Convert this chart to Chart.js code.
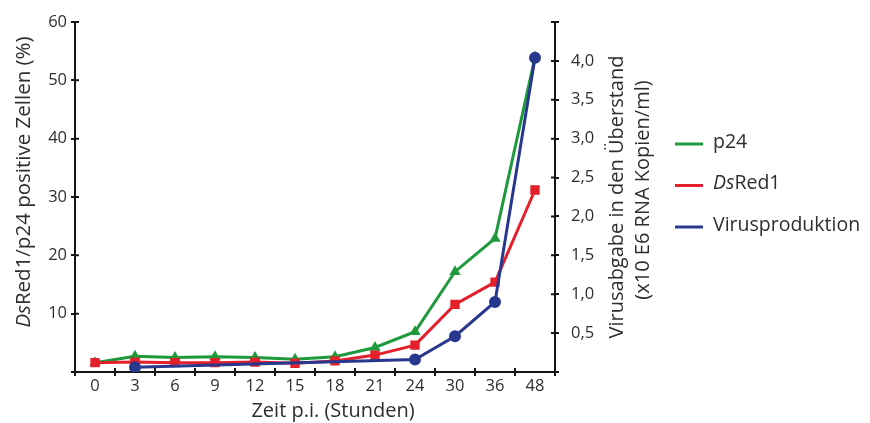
<!DOCTYPE html>
<html>
<head>
<meta charset="utf-8">
<script src="https://cdn.jsdelivr.net/npm/chart.js@4.4.1/dist/chart.umd.min.js"></script>
<style>
  html, body { margin: 0; padding: 0; background: #fff; }
  #wrap { position: relative; width: 870px; height: 423px; }
</style>
</head>
<body>
<div id="wrap"><canvas id="chart1"></canvas></div>
<script>
// hours post infection (category axis)
const hours = ['0', '3', '6', '9', '12', '15', '18', '21', '24', '30', '36', '48']

// % positive cells (left axis)
const p24 = [1.6, 2.7, 2.5, 2.6, 2.5, 2.2, 2.6, 4.2, 6.9, 17.2, 22.9, 54.0]
const dsRed1 = [1.6, 1.7, 1.6, 1.6, 1.7, 1.5, 1.9, 2.9, 4.6, 11.6, 15.4, 31.2]

// virus release, x10 E6 RNA copies/ml (right axis), only measured at some hours
const virus = [null, 0.06, null, null, null, null, null, null, 0.16, 0.46, 0.90, 4.04]

const green = '#1e9a3c'
const red = '#e4202c'
const blue = '#28388e'
const axisColor = '#151515'
const textColor = '#2e2e2e'
const family = '"Open Sans", sans-serif'

// text with some parts in italics, centred on (x, y), rotated by rot
const drawRich = (ctx, parts, x, y, rot, size) => {
    ctx.save()
    ctx.translate(x, y)
    ctx.rotate(rot)
    ctx.textBaseline = 'middle'
    ctx.textAlign = 'left'
    ctx.fillStyle = textColor
    const fontOf = p => (p.i ? 'italic ' : '') + size + 'px ' + family
    let total = 0
    parts.forEach(p => { ctx.font = fontOf(p); total += ctx.measureText(p.t).width })
    let cx = -total / 2
    parts.forEach(p => {
        ctx.font = fontOf(p)
        ctx.fillText(p.t, cx, 0)
        cx += ctx.measureText(p.t).width
    })
    ctx.restore()
}

const extras = {
    id: 'extras',
    afterDraw(chart) {
        const ctx = chart.ctx
        const { left, right, bottom } = chart.chartArea
        const sy = chart.scales.y, sy2 = chart.scales.y2

        // inner half of the crossing tick marks
        ctx.save()
        ctx.strokeStyle = axisColor
        ctx.lineWidth = 2
        ctx.beginPath()
        sy.ticks.forEach((t, i) => {
            const py = sy.getPixelForTick(i)
            ctx.moveTo(left, py); ctx.lineTo(left + 4, py)
        })
        sy2.ticks.forEach((t, i) => {
            const py = sy2.getPixelForTick(i)
            ctx.moveTo(right, py); ctx.lineTo(right - 4, py)
        })
        for (let i = 0; i <= hours.length; i++) {
            const px = left + (right - left) * i / hours.length
            ctx.moveTo(px, bottom); ctx.lineTo(px, bottom - 4)
        }
        ctx.stroke()
        ctx.restore()

        // axis titles
        drawRich(ctx, [{ t: 'Ds', i: true }, { t: 'Red1/p24 positive Zellen (%)' }], 24, 182, -Math.PI / 2, 20.5)
        drawRich(ctx, [{ t: 'Virusabgabe in den Überstand' }], 617, 197, -Math.PI / 2, 20)
        drawRich(ctx, [{ t: '(x10 E6 RNA Kopien/ml)' }], 643, 190, -Math.PI / 2, 20)
        drawRich(ctx, [{ t: 'Zeit p.i. (Stunden)' }], 333, 411, 0, 20)

        // legend
        const items = [
            { c: green, parts: [{ t: 'p24' }] },
            { c: red, parts: [{ t: 'Ds', i: true }, { t: 'Red1' }] },
            { c: blue, parts: [{ t: 'Virusproduktion' }] }
        ]
        items.forEach((it, k) => {
            const ly = 144 + k * 41.5
            ctx.save()
            ctx.strokeStyle = it.c
            ctx.lineWidth = 3
            ctx.beginPath(); ctx.moveTo(675, ly); ctx.lineTo(703, ly); ctx.stroke()
            ctx.restore()
            ctx.save()
            ctx.textBaseline = 'middle'
            ctx.fillStyle = textColor
            let cx = 713
            it.parts.forEach(p => {
                ctx.font = (p.i ? 'italic ' : '') + '19.5px ' + family
                ctx.fillText(p.t, cx, ly - 2)
                cx += ctx.measureText(p.t).width
            })
            ctx.restore()
        })
    }
}

const tickFont = { family, size: 16.5 }
const comma = v => v.toFixed(1).replace('.', ',')

new Chart('chart1', {
    type: 'line',
    data: {
        labels: hours,
        datasets: [
            {
                label: 'Virusproduktion', data: virus, yAxisID: 'y2', spanGaps: true,
                borderColor: blue, backgroundColor: blue, borderWidth: 3,
                pointStyle: 'circle', pointRadius: 4.5
            },
            {
                label: 'DsRed1', data: dsRed1, yAxisID: 'y',
                borderColor: red, backgroundColor: red, borderWidth: 3,
                pointStyle: 'rect', pointRadius: 4.5
            },
            {
                label: 'p24', data: p24, yAxisID: 'y',
                borderColor: green, backgroundColor: green, borderWidth: 3,
                pointStyle: 'triangle', pointRadius: 3.5
            }
        ]
    },
    options: {
        responsive: true,
        maintainAspectRatio: false,
        animation: false,
        layout: { padding: { top: 22, left: 0, right: 0, bottom: 0 } },
        plugins: { legend: { display: false }, tooltip: { enabled: false } },
        scales: {
            x: {
                type: 'category',
                offset: true,
                grid: { offset: true, drawOnChartArea: false, tickLength: 4, color: axisColor, lineWidth: 2 },
                border: { color: axisColor, width: 2 },
                ticks: { font: tickFont, color: textColor, padding: 0, maxRotation: 0, autoSkip: false },
                afterFit: s => { s.height = 51 }
            },
            y: {
                position: 'left',
                min: 0, max: 60,
                grid: { drawOnChartArea: false, tickLength: 4, color: axisColor, lineWidth: 2 },
                border: { color: axisColor, width: 2 },
                ticks: { stepSize: 10, font: tickFont, color: textColor, padding: 4,
                    callback: v => v === 0 ? '' : v },
                afterFit: s => { s.width = 75 }
            },
            y2: {
                position: 'right',
                min: 0, max: 4.5,
                grid: { drawOnChartArea: false, tickLength: 4, color: axisColor, lineWidth: 2 },
                border: { color: axisColor, width: 2 },
                ticks: { stepSize: 0.5, font: tickFont, color: textColor, padding: 12,
                    callback: v => (v < 0.25 || v > 4.25) ? '' : comma(v) },
                afterFit: s => { s.width = 315 }
            }
        }
    },
    plugins: [extras]
})
</script>
</body>
</html>
